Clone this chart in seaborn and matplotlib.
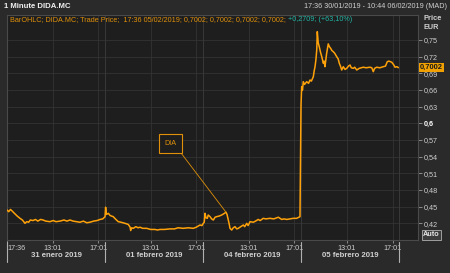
import matplotlib
matplotlib.use("Agg")
import matplotlib.pyplot as plt
import matplotlib.transforms as mtransforms
from matplotlib.patches import Rectangle
import pandas as pd
import seaborn as sns

# ---- data (x = trading-session hours since 31/01 open; each session 09:00-17:36 = 8.6 h) ----
hours = [0.0, 0.15, 0.30, 0.41, 0.55, 0.70, 0.90, 1.14, 1.35, 1.58, 1.73, 1.90, 2.05, 2.28, 2.50,
         2.70, 2.95, 3.16, 3.40, 3.77, 4.05, 4.30, 4.65, 5.00, 5.25, 5.53, 5.80, 6.10, 6.40, 6.70,
         7.00, 7.28, 7.60, 7.90, 8.16, 8.40, 8.60,
         8.65, 8.72, 8.89, 9.05, 9.32, 9.55, 9.76, 10.0, 10.35, 10.64, 10.80, 10.85, 10.95, 11.08,
         11.30, 11.50, 11.67, 11.90, 12.25, 12.6, 12.98, 13.2, 13.42, 13.8, 14.30, 14.7, 15.0,
         15.46, 15.9, 16.34, 16.6, 16.93, 17.1,
         17.22, 17.30, 17.37, 17.45, 17.57, 17.65, 17.81, 17.95, 18.10, 18.25, 18.39, 18.6, 18.83,
         19.0, 19.21, 19.3, 19.41, 19.5, 19.56, 19.71, 19.85, 20.00, 20.15, 20.29, 20.5, 20.73,
         20.85, 21.03, 21.15, 21.32, 21.61, 21.8, 22.04, 22.2, 22.48, 22.7, 23.07, 23.4, 23.80,
         24.10, 24.3, 24.54, 24.8, 25.11, 25.4, 25.70,
         25.79, 25.85, 25.92, 25.99, 26.1, 26.29, 26.45, 26.58, 26.7, 26.87, 26.95, 27.02, 27.10,
         27.17, 27.22, 27.30, 27.39, 27.5, 27.61, 27.75, 27.82, 27.89, 28.04, 28.18, 28.28, 28.39,
         28.5, 28.62, 28.75, 28.92, 29.05, 29.15, 29.25, 29.36, 29.50, 29.65, 29.80, 29.95, 30.09,
         30.2, 30.38, 30.5, 30.68, 30.9, 31.25, 31.5, 31.84, 32.0, 32.13, 32.25, 32.43, 32.7,
         33.01, 33.2, 33.36, 33.5, 33.75, 33.9, 34.04, 34.2, 34.33]
price = [0.444, 0.441, 0.445, 0.443, 0.440, 0.437, 0.433, 0.429, 0.426, 0.420, 0.423, 0.422, 0.426,
         0.425, 0.427, 0.424, 0.427, 0.426, 0.424, 0.423, 0.425, 0.423, 0.424, 0.426, 0.424, 0.426,
         0.424, 0.423, 0.422, 0.424, 0.421, 0.422, 0.424, 0.425, 0.427, 0.428, 0.432,
         0.449, 0.436, 0.438, 0.434, 0.432, 0.427, 0.423, 0.422, 0.420, 0.418, 0.413, 0.407, 0.412,
         0.411, 0.414, 0.412, 0.413, 0.411, 0.411, 0.409, 0.409, 0.408, 0.409, 0.409, 0.410, 0.410,
         0.412, 0.411, 0.412, 0.411, 0.413, 0.417, 0.416,
         0.420, 0.422, 0.438, 0.430, 0.429, 0.435, 0.432, 0.428, 0.426, 0.431, 0.432, 0.433, 0.435,
         0.437, 0.440, 0.436, 0.426, 0.418, 0.411, 0.408, 0.412, 0.414, 0.410, 0.411, 0.414, 0.417,
         0.414, 0.420, 0.416, 0.423, 0.422, 0.424, 0.427, 0.425, 0.429, 0.428, 0.429, 0.428, 0.431,
         0.427, 0.428, 0.427, 0.428, 0.429, 0.429, 0.432,
         0.633, 0.666, 0.660, 0.675, 0.670, 0.675, 0.672, 0.678, 0.676, 0.684, 0.695, 0.702, 0.715,
         0.732, 0.765, 0.745, 0.738, 0.728, 0.720, 0.708, 0.712, 0.702, 0.726, 0.743, 0.738, 0.735,
         0.731, 0.729, 0.726, 0.720, 0.716, 0.708, 0.703, 0.696, 0.702, 0.697, 0.699, 0.703, 0.705,
         0.700, 0.699, 0.701, 0.696, 0.699, 0.701, 0.700, 0.701, 0.700, 0.693, 0.699, 0.701, 0.700,
         0.702, 0.703, 0.711, 0.712, 0.710, 0.706, 0.701, 0.702, 0.7002]

session_len = 8.6
day_labels = ["31 enero 2019", "01 febrero 2019", "04 febrero 2019", "05 febrero 2019"]
y_ticks = [0.42, 0.45, 0.48, 0.51, 0.54, 0.57, 0.60, 0.63, 0.66, 0.69, 0.72, 0.75]
y_tick_labels = ["0,42", "0,45", "0,48", "0,51", "0,54", "0,57", "0,6", "0,63", "0,66", "0,69", "0,72", "0,75"]
last_price = 0.7002
last_label = "0,7002"
note_text = "DIA"
note_point = (19.21, 0.440)
note_text_pos = (14.34, 0.5636)

# ---- style ----
BG_FIG = "#2a2a2a"
BG_AX = "#1e1e1e"
GRID = "#333333"
FRAME = "#4a4a4a"
TXT = "#d0d0d0"
ORANGE = "#ffa20a"
ORANGE_TXT = "#e0900a"
TEAL = "#22b5a5"
FONT = ["Liberation Sans", "DejaVu Sans"]

sns.set_style("dark")
plt.rcParams["font.family"] = FONT

W, H = 450, 273
fig = plt.figure(figsize=(W / 100, H / 100), dpi=100, facecolor=BG_FIG)
ax = fig.add_axes([7 / W, 1 - 240 / H, (418 - 7) / W, (240 - 15) / H])
ax.set_facecolor(BG_AX)

df = pd.DataFrame({"hours": hours, "price": price})
sns.lineplot(data=df, x="hours", y="price", ax=ax, color=ORANGE, linewidth=1.1,
             estimator=None, sort=False, zorder=3)

ax.set_xlim(0, (418 - 7) / 11.4)
ax.set_ylim(0.39, 0.795)
ax.set_xlabel("")
ax.set_ylabel("")

# y axis on right
ax.yaxis.tick_right()
ax.tick_params(axis="y", color="#9a9a9a", length=3, width=0.6, pad=1.5, right=True, left=False)
ax.set_yticks(y_ticks)
ax.set_yticklabels(y_tick_labels)
for lbl, v in zip(ax.get_yticklabels(), y_ticks):
    lbl.set_color(TXT)
    lbl.set_fontsize(5.2)
    if abs(v - 0.6) < 1e-9:
        lbl.set_fontweight("bold")
        lbl.set_color("#ffffff")

# x ticks
xt, xl = [0.0], ["17:36"]
for d in range(len(day_labels)):
    xt += [d * session_len + 4.017, d * session_len + 8.017]
    xl += ["13:01", "17:01"]
ax.tick_params(axis="x", color="#9a9a9a", length=2, width=0.6, pad=1.5, bottom=True)
ax.set_xticks(xt)
ax.set_xticklabels(xl)
for i, lbl in enumerate(ax.get_xticklabels()):
    lbl.set_color(TXT)
    lbl.set_fontsize(5.2)
    if i == 0:
        lbl.set_horizontalalignment("left")

# grid
ax.grid(False)
for v in y_ticks:
    ax.axhline(v, color=GRID, lw=0.6, zorder=1)
for v in xt[1:]:
    ax.axvline(v, color=GRID, lw=0.6, zorder=1)
for d in range(1, len(day_labels) + 1):
    ax.axvline(d * session_len, color="#383838", lw=0.7, zorder=1)

for s in ax.spines.values():
    s.set_color(FRAME)
    s.set_linewidth(0.8)

# day labels and separators
trans = mtransforms.blended_transform_factory(ax.transData, ax.transAxes)
axh = 225.0
for d, name in enumerate(day_labels):
    ax.text(d * session_len + session_len / 2, -(255.5 - 240) / axh, name, transform=trans,
            ha="center", va="center", fontsize=5.6, fontweight="bold", color=TXT)
for d in range(len(day_labels) + 1):
    ax.plot([d * session_len] * 2, [-(241.5 - 240) / axh, -(262 - 240) / axh], transform=trans,
            color="#b0b0b0", lw=0.8, clip_on=False)

# annotation
ax.annotate(note_text, xy=note_point, xytext=note_text_pos, fontsize=5.2, color=ORANGE_TXT,
            ha="center", va="center", zorder=5,
            bbox=dict(boxstyle="square,pad=0.8", fc=BG_AX, ec=ORANGE_TXT, lw=0.8),
            arrowprops=dict(arrowstyle="-", color=ORANGE_TXT, lw=0.6, relpos=(1, 0),
                            shrinkA=0, shrinkB=0))

# last price tag on the right
ytr = mtransforms.blended_transform_factory(ax.transAxes, ax.transData)
ax.text(1.005, last_price, last_label, transform=ytr, ha="left", va="center", fontsize=5.4,
        fontweight="bold", color="#1a1a1a", zorder=6, clip_on=False,
        bbox=dict(boxstyle="square,pad=0.15", fc="#f0a000", ec="none"))

# header texts
fig.text(4 / W, 1 - 6.5 / H, "1 Minute DIDA.MC", fontsize=5.6, fontweight="bold", color="#f0f0f0",
         ha="left", va="center")
fig.text(447 / W, 1 - 6.5 / H, "17:36 30/01/2019 - 10:44 06/02/2019 (MAD)", fontsize=5.2,
         color=TXT, ha="right", va="center")
t1 = fig.text(10 / W, 1 - 19.5 / H,
              "BarOHLC; DIDA.MC; Trade Price;  17:36 05/02/2019; 0,7002; 0,7002; 0,7002; 0,7002; ",
              fontsize=5.2, color=ORANGE_TXT, ha="left", va="center")
fig.canvas.draw()
bb = t1.get_window_extent()
fig.text(bb.x1 / W, 1 - 19.5 / H, "+0,2709; (+63,10%)", fontsize=5.2,
         color=TEAL, ha="left", va="center")
fig.text(423 / W, 1 - 18 / H, "Price", fontsize=5.4, fontweight="bold", color=TXT,
         ha="left", va="center")
fig.text(423 / W, 1 - 27.5 / H, "EUR", fontsize=5.2, fontweight="bold", color=TXT,
         ha="left", va="center")

# Auto button
fig.patches.append(Rectangle((422 / W, 1 - 240 / H), 19 / W, 10 / H, transform=fig.transFigure,
                             fc="#3c3c3c", ec="#b0b0b0", lw=0.6))
fig.text(431.5 / W, 1 - 235 / H, "Auto", fontsize=5.2, fontweight="bold", color="#e8e8e8",
         ha="center", va="center")

fig.savefig("out.png", dpi=100, facecolor=BG_FIG)
